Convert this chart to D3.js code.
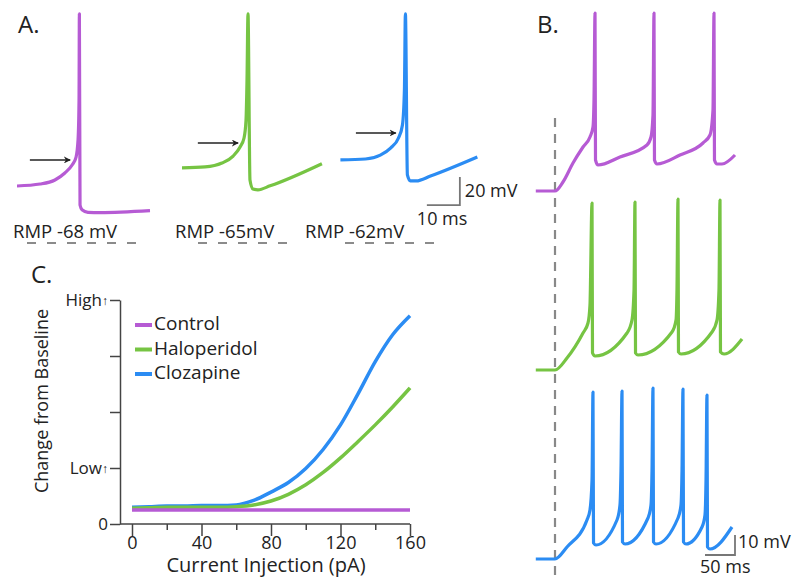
<!DOCTYPE html>
<html>
<head>
<meta charset="utf-8">
<script src="https://cdnjs.cloudflare.com/ajax/libs/d3/7.8.5/d3.min.js"></script>
<style>
  body { margin: 0; background: #fff; }
  text { font-family: "Open Sans", sans-serif; fill: #222; }
</style>
</head>
<body>
<div id="fig"></div>
<script>
/// Figure size
var svgWidth = 802;
var svgHeight = 577;

var colors = ["#b65bd4", "#76c443", "#2b8cf3"];

/// ---- Panel A: single action potentials, [time ms, voltage mV]
var aControl = [[0,-68],[7,-66.6],[11.5,-63.7],[14.5,-58.7],[16.7,-53],[17.9,-47.3],[18.5,-35.1],[18.8,-6.6],[18.9,55],
  [19.1,-81.6],[19.7,-85],[21.5,-86.8],[25.2,-87],[40.3,-85.6]];
var aHalo = [[50,-55.1],[57,-54.4],[62.1,-51.6],[65.5,-46.6],[67.6,-40.1],[68.8,-33.7],[69.4,-20.9],[69.7,7.7],[70,55],
  [70.6,-63.7],[71.5,-70.1],[73,-70.7],[76.7,-67.9],[92.4,-52.1]];
var aCloz = [[98,-49.4],[105.6,-48.7],[110.1,-45.9],[113.2,-40.9],[115.6,-33.7],[116.8,-24.4],[117.4,0.6],[117.7,55],
  [118.3,-60.1],[119.2,-64.4],[121,-64.4],[125.3,-60.9],[139.5,-47.3]];
/// threshold arrows: [start ms, end ms, mV]
var aArrows = [[3.9,16.1,-49.4],[54.8,67,-37.3],[102.7,114.8,-30.1]];
var rmpLabels = ["RMP -68 mV", "RMP -65mV", "RMP -62mV"];

/// ---- Panel B: spike trains, [time ms from onset, voltage mV]
var bControl = [[-32,-70],[0,-70],[13.3,-65.5],[30,-56],[46.7,-48],[58.3,-43],[63.3,-38],[65,-24.5],[66.7,19],
  [67.5,-54.5],[71.7,-57],[108.3,-53],[153.3,-47],[160,-43],[163.3,-32],[165,19],
  [165.8,-54.5],[170,-56.5],[208.3,-52],[246.7,-46],[258.3,-42],[263.3,-29.5],[265,19],
  [265.8,-54.5],[270,-56.5],[278.3,-56.5],[300,-52]];
var bHalo = [[-32,-70],[0,-70],[20,-64],[46.7,-51.5],[55,-46.5],[58.3,-37.5],[61.7,13.5],
  [62.5,-61.5],[66.7,-63],[120,-51.5],[128.3,-45],[131.7,-30],[133.3,14],
  [134.2,-61.5],[138.3,-62.5],[195,-51],[201.7,-45],[203.3,-30],[205,15.5],
  [205.8,-61],[210,-62],[261.7,-51],[270,-45],[273.3,-30],[275,15],
  [275.8,-61],[281.7,-62],[311.7,-54.5]];
var bCloz = [[-32,-70],[0,-70],[20,-64],[53.3,-50.5],[58.3,-45.5],[61.7,-30.5],[63.3,13.5],
  [64.2,-62],[68.3,-63],[103.3,-50.5],[108.3,-43],[110,-25.5],[111.7,14],
  [112.5,-61.5],[116.7,-62.5],[155,-49.5],[160,-43],[161.7,-25.5],[163.3,15.5],
  [164.2,-61.5],[168.3,-62.5],[205,-49.5],[210,-43],[211.7,-25.5],[213.3,15],
  [214.2,-61.5],[218.3,-62.5],[245,-54],[250,-48],[251.7,-30.5],[253.3,12],
  [254.2,-64],[258.3,-65],[295,-54]];

/// ---- Panel C: change from baseline vs current injection
var injection = [0,10,20,30,40,50,60,70,80,90,100,110,120,130,140,150,160];
var cControl  = [0.25,0.25,0.25,0.25,0.25,0.25,0.25,0.25,0.25,0.25,0.25,0.25,0.25,0.25,0.25,0.25,0.25];
var cHalo     = [0.28,0.29,0.3,0.3,0.3,0.3,0.31,0.34,0.41,0.53,0.7,0.92,1.18,1.47,1.77,2.09,2.43];
var cCloz     = [0.3,0.31,0.32,0.32,0.33,0.33,0.34,0.42,0.57,0.74,0.99,1.33,1.77,2.32,2.9,3.38,3.72];
var cTicksX = [0, 40, 80, 120, 160];
var cMinorX = [20, 60, 100, 140];
var cTicksY = [0, 1, 2, 3, 4];
var cTickLabelsY = ["0", "Low", "", "", "High"];
var legendNames = ["Control", "Haloperidol", "Clozapine"];

var svg = d3.select("#fig").append("svg")
  .attr("width", svgWidth)
  .attr("height", svgHeight);

/// arrow head for panel A
svg.append("defs").append("marker")
  .attr("id", "head")
  .attr("viewBox", "0 0 10 10")
  .attr("refX", 9).attr("refY", 5)
  .attr("markerWidth", 7).attr("markerHeight", 7)
  .attr("markerUnits", "userSpaceOnUse")
  .attr("orient", "auto")
  .append("path")
  .attr("d", "M0,0 L10,5 L0,10 L3,5 z")
  .attr("fill", "#222");

/// ================= Panel A =================
var xA = d3.scaleLinear().domain([0, 150]).range([17, 512]);
var yA = d3.scaleLinear().domain([-90, 60]).range([216.8, 6.8]);
var lineA = d3.line().x(d => xA(d[0])).y(d => yA(d[1])).curve(d3.curveMonotoneX);

var gA = svg.append("g");
[aControl, aHalo, aCloz].forEach(function(tr, i) {
  gA.append("path")
    .attr("d", lineA(tr))
    .attr("fill", "none")
    .attr("stroke", colors[i])
    .attr("stroke-width", 3.2)
    .attr("stroke-linejoin", "round");
});

gA.selectAll(".arrow")
  .data(aArrows)
  .enter()
  .append("line")
  .attr("x1", d => xA(d[0]))
  .attr("x2", d => xA(d[1]))
  .attr("y1", d => yA(d[2]))
  .attr("y2", d => yA(d[2]))
  .attr("stroke", "#222")
  .attr("stroke-width", 1.5)
  .attr("marker-end", "url(#head)");

/// scale bar 10 ms / 20 mV
var barA = {t: 134.2, v: -81.6};
gA.append("path")
  .attr("d", `M${xA(barA.t - 10)},${yA(barA.v)} H${xA(barA.t)} V${yA(barA.v + 20)}`)
  .attr("fill", "none").attr("stroke", "#777").attr("stroke-width", 1.8);
gA.append("text").attr("x", xA(barA.t) + 5).attr("y", yA(barA.v + 10) + 1)
  .attr("dominant-baseline", "middle").attr("font-size", 18).text("20 mV");
gA.append("text").attr("x", xA(barA.t - 10) - 10).attr("y", yA(barA.v) + 15)
  .attr("dominant-baseline", "middle").attr("font-size", 18).text("10 ms");

/// RMP labels and dashed baselines
var rmpX = [13, 175, 305];
var dashX = [[27, 138], [198, 289], [345, 434]];
gA.selectAll(".rmp")
  .data(rmpLabels)
  .enter()
  .append("text")
  .attr("x", (d, i) => rmpX[i])
  .attr("y", 238)
  .attr("font-size", 18.5)
  .text(d => d);
gA.selectAll(".dash")
  .data(dashX)
  .enter()
  .append("line")
  .attr("x1", d => d[0]).attr("x2", d => d[1])
  .attr("y1", 243).attr("y2", 243)
  .attr("stroke", "#666").attr("stroke-width", 1.5)
  .attr("stroke-dasharray", "9,11");

svg.append("text").attr("x", 18).attr("y", 33).attr("font-size", 24).text("A.");

/// ================= Panel B =================
var xB = d3.scaleLinear().domain([0, 300]).range([555, 735]);
var rowBase = [191, 370, 559];
var yB = rowBase.map(b => d3.scaleLinear().domain([-70, 20]).range([b, b - 180]));

var gB = svg.append("g");
gB.append("line")
  .attr("x1", xB(0)).attr("x2", xB(0))
  .attr("y1", 118).attr("y2", svgHeight)
  .attr("stroke", "#888").attr("stroke-width", 2.2)
  .attr("stroke-dasharray", "9,7");

[bControl, bHalo, bCloz].forEach(function(tr, i) {
  var lineB = d3.line().x(d => xB(d[0])).y(d => yB[i](d[1])).curve(d3.curveMonotoneX);
  gB.append("path")
    .attr("d", lineB(tr))
    .attr("fill", "none")
    .attr("stroke", colors[i])
    .attr("stroke-width", 3.2)
    .attr("stroke-linejoin", "round");
});

/// scale bar 50 ms / 10 mV
var barB = {t: 300, v: -68};
gB.append("path")
  .attr("d", `M${xB(barB.t - 50)},${yB[2](barB.v)} H${xB(barB.t)} V${yB[2](barB.v + 10)}`)
  .attr("fill", "none").attr("stroke", "#777").attr("stroke-width", 1.8);
gB.append("text").attr("x", xB(barB.t) + 3).attr("y", yB[2](barB.v + 5) - 2)
  .attr("dominant-baseline", "middle").attr("font-size", 18).text("10 mV");
gB.append("text").attr("x", xB(barB.t - 50) - 5).attr("y", yB[2](barB.v) + 13)
  .attr("dominant-baseline", "middle").attr("font-size", 18).text("50 ms");

svg.append("text").attr("x", 537).attr("y", 33).attr("font-size", 24).text("B.");

/// ================= Panel C =================
var xC = d3.scaleLinear().domain([0, 160]).range([132, 410]);
var yC = d3.scaleLinear().domain([0, 4]).range([524, 300]);
var gC = svg.append("g");

var yAxis = gC.append("g")
  .attr("transform", "translate(120,0)")
  .call(d3.axisLeft(yC).tickValues(cTicksY).tickSize(10).tickSizeOuter(0).tickPadding(2)
    .tickFormat(d => cTickLabelsY[cTicksY.indexOf(d)]));
yAxis.selectAll(".tick text")
  .attr("font-size", 17)
  .attr("font-family", "Open Sans")
  .attr("fill", "#222")
  .filter(d => d === 1 || d === 4)
  .append("tspan").attr("font-size", 12).attr("font-weight", "bold").attr("dy", -1).text("\u2191");

var xAxis = gC.append("g")
  .attr("transform", `translate(0,${yC(0)})`)
  .call(d3.axisBottom(xC).tickValues(cTicksX).tickSize(12).tickSizeOuter(0).tickPadding(0));
xAxis.select(".domain").remove();
xAxis.selectAll(".tick text").attr("font-size", 18).attr("font-family", "Open Sans").attr("fill", "#222");

gC.append("g")
  .attr("transform", `translate(0,${yC(0)})`)
  .call(d3.axisBottom(xC).tickValues(cMinorX).tickSize(6).tickFormat(""))
  .select(".domain").remove();

gC.append("line")
  .attr("x1", 120).attr("x2", xC(160))
  .attr("y1", yC(0)).attr("y2", yC(0))
  .attr("stroke", "#444").attr("stroke-width", 1.5);

gC.selectAll(".domain, .tick line").attr("stroke", "#444").attr("stroke-width", 1.5);

var lineC = d3.line().x((d, i) => xC(injection[i])).y(d => yC(d)).curve(d3.curveMonotoneX);
[cCloz, cHalo, cControl].forEach(function(s, j) {
  gC.append("path")
    .attr("d", lineC(s))
    .attr("fill", "none")
    .attr("stroke", colors[2 - j])
    .attr("stroke-width", 3.5);
});

/// legend
var legend = gC.selectAll(".legend")
  .data(legendNames)
  .enter()
  .append("g")
  .attr("transform", (d, i) => `translate(135,${325 + i * 24.5})`);
legend.append("line")
  .attr("x1", 0).attr("x2", 17)
  .attr("stroke", (d, i) => colors[i])
  .attr("stroke-width", 4);
legend.append("text")
  .attr("x", 19)
  .attr("dominant-baseline", "middle")
  .attr("font-size", 19)
  .text(d => d);

gC.append("text")
  .attr("transform", "translate(43,401) rotate(-90)")
  .attr("text-anchor", "middle")
  .attr("dominant-baseline", "middle")
  .attr("font-size", 18)
  .text("Change from Baseline");

gC.append("text")
  .attr("x", 266).attr("y", 572)
  .attr("text-anchor", "middle")
  .attr("font-size", 20)
  .text("Current Injection (pA)");

svg.append("text").attr("x", 31).attr("y", 283).attr("font-size", 24).text("C.");
</script>
</body>
</html>
